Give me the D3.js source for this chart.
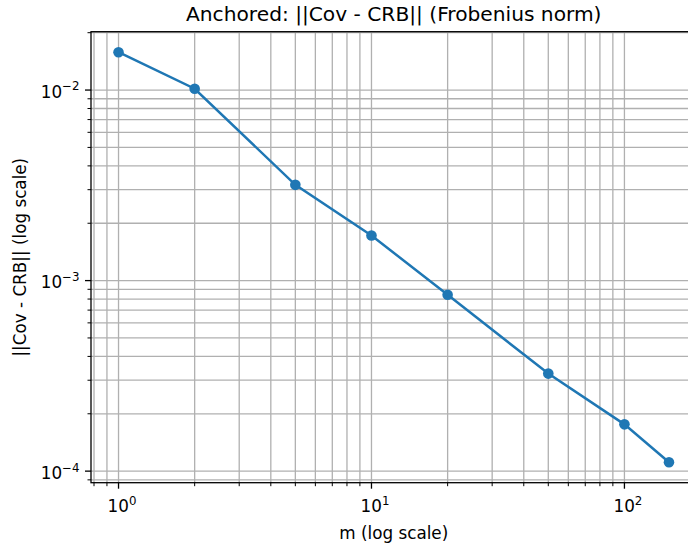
<!DOCTYPE html>
<html>
<head>
<meta charset="utf-8">
<script src="https://cdn.jsdelivr.net/npm/d3@7"></script>
<style>
  body { margin: 0; background: #fff; }
  svg { display: block; font-family: "DejaVu Sans", sans-serif; }
</style>
</head>
<body>
<svg id="chart" width="688" height="545"></svg>
<script>
// values
const mValues = [1, 2, 5, 10, 20, 50, 100, 150];
const errValues = [0.0158, 0.01016, 0.00318, 0.001725, 0.000842, 0.000325, 0.000176, 0.0001114];

const titleText = "Anchored: ||Cov - CRB|| (Frobenius norm)";
const xLabelText = "m (log scale)";
const yLabelText = "||Cov - CRB|| (log scale)";

const margin = { top: 31.7, left: 91 };
const plotW = 605.5, plotH = 451;
const blue = "#1f77b4", gridCol = "#b0b0b0";

// matplotlib style 5% margin in log space
function logDomain(vals) {
    const lo = Math.log10(d3.min(vals)), hi = Math.log10(d3.max(vals));
    const pad = (hi - lo) * 0.05;
    return [Math.pow(10, lo - pad), Math.pow(10, hi + pad)];
}

const x = d3.scaleLog().domain(logDomain(mValues)).range([0, plotW]);
const y = d3.scaleLog().domain(logDomain(errValues)).range([plotH, 0]);

const svg = d3.select("#chart");
const g = svg.append("g").attr("transform", "translate(" + margin.left + "," + margin.top + ")");

const isMajor = v => Math.abs(Math.log10(v) - Math.round(Math.log10(v))) < 1e-9;
const xTicks = x.ticks().filter(v => x(v) >= -0.5 && x(v) <= plotW + 0.5);
const yTicks = y.ticks().filter(v => y(v) >= -0.5 && y(v) <= plotH + 0.5);

// grid (major + minor)
g.append("g").selectAll("line").data(xTicks).enter().append("line")
    .attr("x1", d => x(d)).attr("x2", d => x(d))
    .attr("y1", 0).attr("y2", plotH)
    .attr("stroke", gridCol).attr("stroke-width", 1.3);
g.append("g").selectAll("line").data(yTicks).enter().append("line")
    .attr("y1", d => y(d)).attr("y2", d => y(d))
    .attr("x1", 0).attr("x2", plotW)
    .attr("stroke", gridCol).attr("stroke-width", 1.3);

// data line + markers
const line = d3.line().x((d, i) => x(mValues[i])).y(d => y(d));
g.append("path").datum(errValues)
    .attr("d", line)
    .attr("fill", "none")
    .attr("stroke", blue)
    .attr("stroke-width", 2.5);
g.append("g").selectAll("circle").data(errValues).enter().append("circle")
    .attr("cx", (d, i) => x(mValues[i]))
    .attr("cy", d => y(d))
    .attr("r", 5.3)
    .attr("fill", blue);

// spines
g.append("rect").attr("x", 0).attr("y", 0).attr("width", plotW).attr("height", plotH)
    .attr("fill", "none").attr("stroke", "#000").attr("stroke-width", 1.3);

// ticks
g.append("g").selectAll("line").data(xTicks).enter().append("line")
    .attr("x1", d => x(d)).attr("x2", d => x(d))
    .attr("y1", plotH).attr("y2", d => plotH + (isMajor(d) ? 6 : 3.5))
    .attr("stroke", "#000").attr("stroke-width", d => isMajor(d) ? 1.3 : 1);
g.append("g").selectAll("line").data(yTicks).enter().append("line")
    .attr("y1", d => y(d)).attr("y2", d => y(d))
    .attr("x1", 0).attr("x2", d => isMajor(d) ? -6 : -3.5)
    .attr("stroke", "#000").attr("stroke-width", d => isMajor(d) ? 1.3 : 1);

function powLabel(sel) {
    sel.append("tspan").text("10");
    sel.append("tspan")
        .attr("font-size", "11.8px")
        .attr("dy", "-0.6em")
        .text(d => {
            const e = Math.round(Math.log10(d));
            return e < 0 ? "\u2212" + (-e) : String(e);
        });
}

g.append("g").selectAll("text").data(xTicks.filter(isMajor)).enter().append("text")
    .attr("x", d => x(d) + 3.5)
    .attr("y", plotH + 29)
    .attr("text-anchor", "middle")
    .attr("font-size", "16.8px")
    .attr("fill", "#000")
    .call(powLabel);

g.append("g").selectAll("text").data(yTicks.filter(isMajor)).enter().append("text")
    .attr("x", -11.5)
    .attr("y", d => y(d) + 7.5)
    .attr("text-anchor", "end")
    .attr("font-size", "16.8px")
    .attr("fill", "#000")
    .call(powLabel);

// title & axis labels
svg.append("text")
    .attr("x", margin.left + plotW / 2).attr("y", 21)
    .attr("text-anchor", "middle")
    .attr("font-size", "20.2px")
    .text(titleText);

svg.append("text")
    .attr("x", margin.left + plotW / 2).attr("y", 539)
    .attr("text-anchor", "middle")
    .attr("font-size", "16.8px")
    .text(xLabelText);

svg.append("text")
    .attr("transform", "translate(26," + (margin.top + plotH / 2) + ") rotate(-90)")
    .attr("text-anchor", "middle")
    .attr("font-size", "16.8px")
    .text(yLabelText);
</script>
</body>
</html>
